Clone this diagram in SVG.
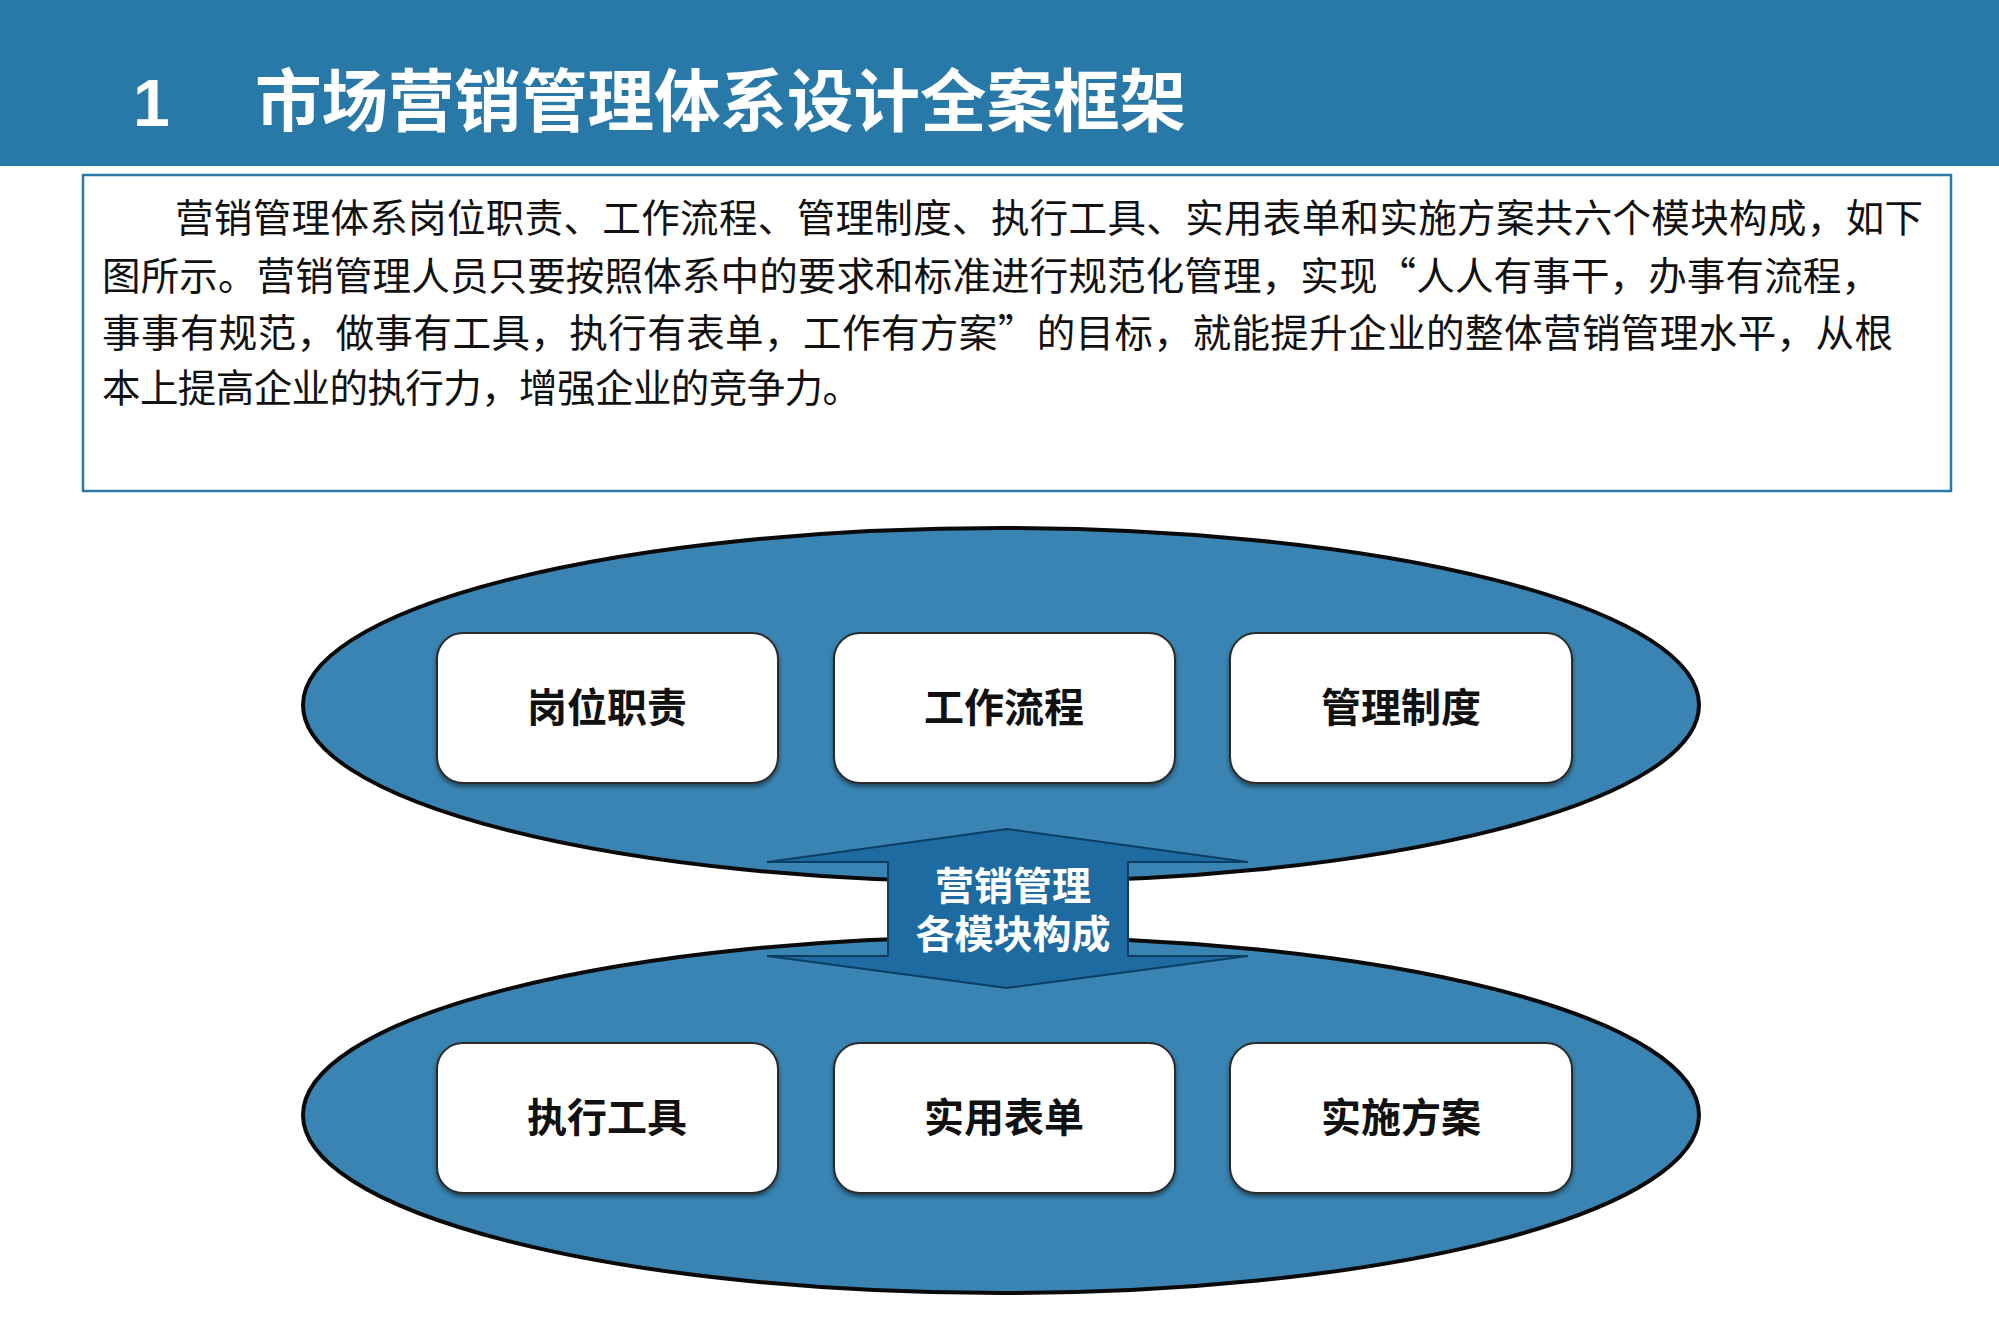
<svg xmlns="http://www.w3.org/2000/svg" width="1999" height="1322" viewBox="0 0 1999 1322">
<style>
.cjk{font-family:"Noto Sans CJK SC","Noto Sans",sans-serif}
.body{font-size:38.5px;fill:#111}
.lbl{font-size:40px;font-weight:700;fill:#111;text-anchor:middle}
.box{fill:#fff;stroke:#2b2b2b;stroke-width:2}
.ell{fill:#3984b2;stroke:#0a0a0a;stroke-width:4}
</style>
<defs>
<filter id="sh" x="-10%" y="-10%" width="120%" height="130%"><feDropShadow dx="0" dy="3" stdDeviation="2" flood-color="#000" flood-opacity="0.45"/></filter>
</defs>
<rect width="1999" height="1322" fill="#fff"/>
<g id="header">
<rect x="0" y="0" width="1999" height="166" fill="#2878a8"/>
<text x="133" y="126" font-family="Liberation Sans,Arial,sans-serif" font-weight="700" font-size="66" fill="#fff">1</text>
<text class="cjk" x="255" y="126" font-size="68" font-weight="700" fill="#fff" textLength="931" lengthAdjust="spacingAndGlyphs">市场营销管理体系设计全案框架</text>
</g>
<g id="intro">
<rect x="83" y="175" width="1868" height="316" fill="#fff" stroke="#2a78a8" stroke-width="2.5"/>
<text class="cjk body" x="175" y="232" textLength="1748" lengthAdjust="spacing">营销管理体系岗位职责、工作流程、管理制度、执行工具、实用表单和实施方案共六个模块构成，如下</text>
<text class="cjk body" x="102" y="290" textLength="1778" lengthAdjust="spacing">图所示。营销管理人员只要按照体系中的要求和标准进行规范化管理，实现“人人有事干，办事有流程，</text>
<text class="cjk body" x="102" y="347" textLength="1791" lengthAdjust="spacing">事事有规范，做事有工具，执行有表单，工作有方案”的目标，就能提升企业的整体营销管理水平，从根</text>
<text class="cjk body" x="102" y="402" textLength="759" lengthAdjust="spacing">本上提高企业的执行力，增强企业的竞争力。</text>
</g>
<g id="ellipse-top">
<ellipse class="ell" cx="1001" cy="705" rx="698" ry="177"/>
</g>
<g id="ellipse-bottom">
<ellipse class="ell" cx="1001" cy="1115" rx="698" ry="178"/>
</g>
<g id="node-gangwei"><rect class="box" x="437" y="633" width="341" height="150" rx="26" filter="url(#sh)"/><text class="cjk lbl" x="607" y="722">岗位职责</text></g>
<g id="node-gongzuo"><rect class="box" x="834" y="633" width="341" height="150" rx="26" filter="url(#sh)"/><text class="cjk lbl" x="1004" y="722">工作流程</text></g>
<g id="node-guanli"><rect class="box" x="1230" y="633" width="342" height="150" rx="26" filter="url(#sh)"/><text class="cjk lbl" x="1401" y="722">管理制度</text></g>
<g id="node-zhixing"><rect class="box" x="437" y="1043" width="341" height="150" rx="26" filter="url(#sh)"/><text class="cjk lbl" x="607" y="1132">执行工具</text></g>
<g id="node-shiyong"><rect class="box" x="834" y="1043" width="341" height="150" rx="26" filter="url(#sh)"/><text class="cjk lbl" x="1004" y="1132">实用表单</text></g>
<g id="node-shishi"><rect class="box" x="1230" y="1043" width="342" height="150" rx="26" filter="url(#sh)"/><text class="cjk lbl" x="1401" y="1132">实施方案</text></g>
<g id="connectors">
<path d="M1007,829 L1248,862 L1128,862 L1128,956 L1248,956 L1007,988 L767,956 L888,956 L888,862 L767,862 Z" fill="#1e6ba2" stroke="#0d3d63" stroke-width="2"/>
<text class="cjk" x="1013" y="900" font-size="39" font-weight="700" fill="#fff" text-anchor="middle">营销管理</text>
<text class="cjk" x="1013" y="948" font-size="39" font-weight="700" fill="#fff" text-anchor="middle">各模块构成</text>
</g>
</svg>
